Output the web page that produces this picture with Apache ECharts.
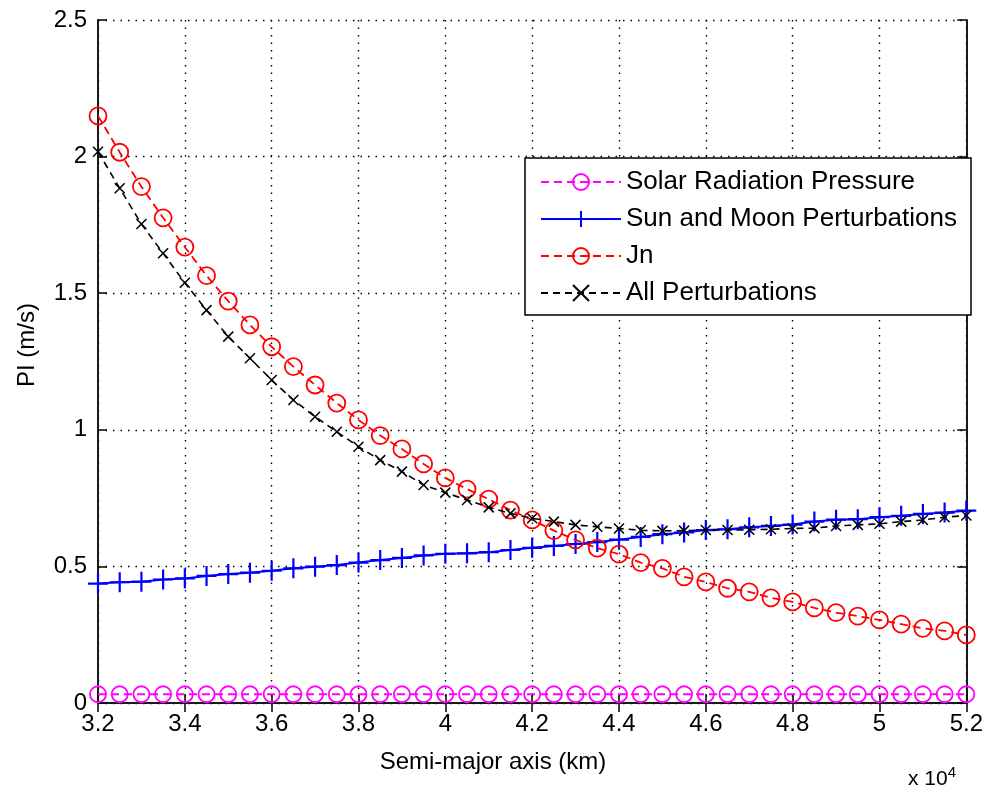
<!DOCTYPE html>
<html>
<head>
<meta charset="utf-8">
<script src="https://cdn.jsdelivr.net/npm/echarts@6/dist/echarts.min.js"></script>
<style>
html,body{margin:0;padding:0;background:#fff;}
#chart{width:986px;height:787px;}
</style>
</head>
<body>
<div id="chart"></div>
<script>
// Semi-major axis (km)
const semiMajorAxis = [32000,32500,33000,33500,34000,34500,35000,35500,36000,36500,
  37000,37500,38000,38500,39000,39500,40000,40500,41000,41500,
  42000,42500,43000,43500,44000,44500,45000,45500,46000,46500,
  47000,47500,48000,48500,49000,49500,50000,50500,51000,51500,52000];

const solarRadiation = [0.032,0.032,0.032,0.032,0.032,0.032,0.032,0.032,0.032,0.032,
  0.032,0.032,0.032,0.032,0.032,0.032,0.032,0.032,0.032,0.032,
  0.032,0.032,0.032,0.032,0.032,0.032,0.032,0.032,0.032,0.032,
  0.032,0.032,0.032,0.032,0.032,0.032,0.032,0.032,0.032,0.032,0.032];

const sunMoon = [0.437,0.442,0.444,0.452,0.456,0.465,0.472,0.477,0.484,0.493,
  0.499,0.505,0.514,0.523,0.531,0.540,0.546,0.548,0.552,0.560,
  0.568,0.575,0.582,0.589,0.598,0.608,0.618,0.624,0.633,0.636,
  0.643,0.648,0.653,0.664,0.671,0.673,0.680,0.685,0.692,0.697,0.704];

const jn = [2.149,2.016,1.890,1.776,1.669,1.564,1.471,1.384,1.304,1.231,
  1.164,1.098,1.036,0.979,0.930,0.875,0.824,0.783,0.746,0.706,
  0.670,0.631,0.597,0.567,0.545,0.514,0.493,0.462,0.443,0.420,
  0.407,0.385,0.370,0.348,0.331,0.318,0.304,0.289,0.273,0.264,0.249];

const allPerturbations = [2.018,1.884,1.753,1.646,1.538,1.438,1.341,1.262,1.182,1.109,
  1.048,0.993,0.938,0.889,0.847,0.798,0.770,0.743,0.716,0.694,
  0.676,0.664,0.652,0.645,0.639,0.632,0.630,0.631,0.633,0.633,
  0.634,0.636,0.639,0.640,0.648,0.652,0.656,0.664,0.670,0.680,0.686];

const seriesNames = ['Solar Radiation Pressure','Sun and Moon Perturbations','Jn','All Perturbations'];
const xTitle = 'Semi-major axis (km)';
const yTitle = 'PI (m/s)';

const FONT = '"Liberation Sans", Arial, sans-serif';
const pair = (ys) => semiMajorAxis.map((x, i) => [x, ys[i]]);

const chart = echarts.init(document.getElementById('chart'), null, {renderer: 'canvas'});

const axisLineStyle = {color: '#1a1a1a', width: 2};
const gridDash = {color: '#000', width: 1.4, type: [1.5, 6]};

const option = {
  animation: false,
  backgroundColor: '#fff',
  grid: {left: 98, top: 20, width: 870, height: 683, containLabel: false},
  xAxis: [{
    type: 'value', min: 32000, max: 52000, interval: 2000,
    axisLine: {show: true, lineStyle: axisLineStyle},
    axisTick: {show: true, inside: true, length: 9, lineStyle: {color: '#000', width: 1.5}},
    axisLabel: {fontFamily: FONT, fontSize: 24, color: '#000', margin: 9,
      formatter: (v) => String(+(v / 10000).toFixed(1))},
    splitLine: {show: true, lineStyle: gridDash}
  }, {
    type: 'value', position: 'top', min: 32000, max: 52000, interval: 2000,
    axisLine: {show: true, lineStyle: axisLineStyle},
    axisTick: {show: true, inside: true, length: 9, lineStyle: {color: '#000', width: 1.5}},
    axisLabel: {show: false}, splitLine: {show: false}
  }],
  yAxis: [{
    type: 'value', min: 0, max: 2.5, interval: 0.5,
    axisLine: {show: true, lineStyle: axisLineStyle},
    axisTick: {show: true, inside: true, length: 9, lineStyle: {color: '#000', width: 1.5}},
    axisLabel: {fontFamily: FONT, fontSize: 24, color: '#000', margin: 11},
    splitLine: {show: true, lineStyle: gridDash}
  }, {
    type: 'value', position: 'right', min: 0, max: 2.5, interval: 0.5,
    axisLine: {show: true, lineStyle: axisLineStyle},
    axisTick: {show: true, inside: true, length: 9, lineStyle: {color: '#000', width: 1.5}},
    axisLabel: {show: false}, splitLine: {show: false}
  }],
  legend: {
    orient: 'vertical', left: 525, top: 158,
    padding: [11, 14, 9, 15],
    itemWidth: 80, itemHeight: 20, itemGap: 11,
    borderColor: '#000', borderWidth: 1.5, backgroundColor: '#fff',
    selectedMode: false,
    textStyle: {fontFamily: FONT, fontSize: 26, color: '#000'},
    data: seriesNames
  },
  graphic: [
    {type: 'text', left: 'center', top: 750, style: {text: xTitle, font: '24px ' + FONT, fill: '#000'}, z: 10},
    {type: 'text', x: 27, y: 345, rotation: Math.PI / 2, style: {text: yTitle, font: '24px ' + FONT, fill: '#000', align: 'center', verticalAlign: 'middle'}, z: 10},
    {type: 'text', x: 908, y: 765, style: {rich: {a: {font: '21px ' + FONT, fill: '#000'}, b: {font: '15px ' + FONT, fill: '#000', padding: [0, 0, 14, 0]}}, text: '{a|x 10}{b|4}'}, z: 10}
  ],
  series: [
    {
      name: seriesNames[0], type: 'line', data: pair(solarRadiation), z: 2,
      symbol: 'circle', symbolSize: 16,
      lineStyle: {color: '#ff00ff', width: 1.8, type: [8, 5]},
      itemStyle: {color: 'rgba(255,255,255,0)', borderColor: '#ff00ff', borderWidth: 1.8}
    },
    {
      name: seriesNames[1], type: 'line', data: pair(sunMoon), z: 3,
      symbol: 'path://M0,10 L20,10 M10,0 L10,20', symbolSize: 20,
      lineStyle: {color: '#0000ff', width: 2, type: 'solid'},
      itemStyle: {color: '#0000ff', borderColor: '#0000ff', borderWidth: 2.2}
    },
    {
      name: seriesNames[2], type: 'line', data: pair(jn), z: 4,
      symbol: 'circle', symbolSize: 17,
      lineStyle: {color: '#ff0000', width: 1.8, type: [8, 5]},
      itemStyle: {color: 'rgba(255,255,255,0)', borderColor: '#ff0000', borderWidth: 1.8}
    },
    {
      name: seriesNames[3], type: 'line', data: pair(allPerturbations), z: 5,
      symbol: 'path://M0,0 L10,10 M10,0 L0,10', symbolSize: 10,
      lineStyle: {color: '#000', width: 1.6, type: [7, 5]},
      itemStyle: {color: '#000', borderColor: '#000', borderWidth: 1.5}
    }
  ]
};
chart.setOption(option);
</script>
</body>
</html>
